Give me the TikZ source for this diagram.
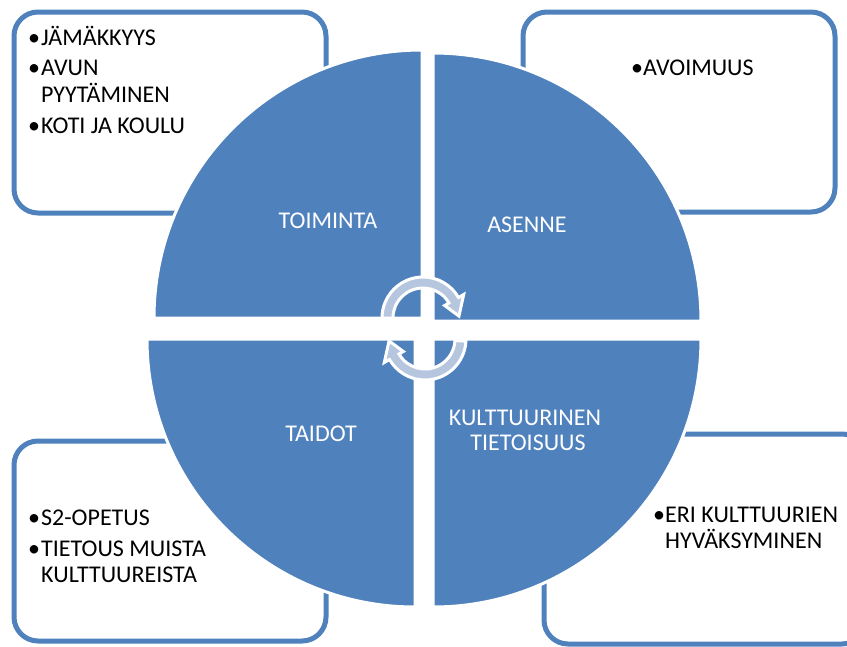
\documentclass[tikz,border=0pt]{standalone}
\usepackage{fontspec}
\setmainfont{Carlito}
\definecolor{accent}{HTML}{4F81BD}
\definecolor{arrowfill}{HTML}{B7C6DF}
\begin{document}
\begin{tikzpicture}[x=1pt,y=-1pt,
  boxstyle/.style={draw=accent, fill=white, line width=5pt, rounded corners=24pt},
  wedge/.style={fill=accent, draw=white, line width=3pt},
  cyclearrow/.style={fill=arrowfill, draw=white, line width=3pt, line join=miter},
  itemtext/.style={anchor=base west, inner sep=0pt, font=\fontsize{24}{28}\selectfont, text=black},
  wedgetext/.style={anchor=base, inner sep=0pt, font=\fontsize{24}{28}\selectfont, text=white}]
\useasboundingbox (0,0) rectangle (847,646);
\clip (0,0) rectangle (847,646);
% boxes
\draw[boxstyle] (14,12) rectangle (326,213);
\draw[boxstyle] (523,12) rectangle (835,212);
\draw[boxstyle] (14,441) rectangle (326,641);
\draw[boxstyle] (544,434) rectangle (866,644);
% wedges
\draw[wedge] (422,318) -- ++(180:268) arc[start angle=180, end angle=270, radius=268] -- cycle;
\draw[wedge] (433,321) -- ++(270:268) arc[start angle=270, end angle=360, radius=268] -- cycle;
\draw[wedge] (433,339) -- ++(0:268) arc[start angle=0, end angle=90, radius=268] -- cycle;
\draw[wedge] (415,339) -- ++(90:268) arc[start angle=90, end angle=180, radius=268] -- cycle;
% cycle arrows
\begin{scope}[shift={(423,318)}]
\draw[cyclearrow] (180:41) arc[start angle=180, end angle=330, radius=41] -- (330:47) -- (357:36) -- (330:25) -- (330:30) arc[start angle=330, end angle=180, radius=30] -- cycle;
\end{scope}
\begin{scope}[shift={(425,339)}]
\draw[cyclearrow] (3:41) arc[start angle=3, end angle=150, radius=41] -- (150:47) -- (177:36) -- (150:25) -- (150:30) arc[start angle=150, end angle=3, radius=30] -- cycle;
\end{scope}
% wedge labels
\node[wedgetext] (w1) at (328,228) {TOIMINTA};
\node[wedgetext] (w2) at (527,232) {ASENNE};
\node[wedgetext] (w3) at (321,441) {TAIDOT};
\node[wedgetext] (w4a) at (525,425) {KULTTUURINEN};
\node[wedgetext] (w4b) at (528,450) {TIETOISUUS};
% top-left items
\node[itemtext] (b1a) at (28,45) {•};
\node[itemtext] (t1a) at (41,45) {JÄMÄKKYYS};
\node[itemtext] (b1b) at (28,75) {•};
\node[itemtext] (t1b) at (41,75) {AVUN};
\node[itemtext] (t1c) at (41,102) {PYYTÄMINEN};
\node[itemtext] (b1d) at (28,133) {•};
\node[itemtext] (t1d) at (41,133) {KOTI JA KOULU};
% top-right items
\node[itemtext] (b2a) at (631,75) {•};
\node[itemtext] (t2a) at (643,75) {AVOIMUUS};
% bottom-left items
\node[itemtext] (b3a) at (28,525) {•};
\node[itemtext] (t3a) at (41,525) {S2-OPETUS};
\node[itemtext] (b3b) at (28,556) {•};
\node[itemtext] (t3b) at (41,556) {TIETOUS MUISTA};
\node[itemtext] (t3c) at (41,582) {KULTTUUREISTA};
% bottom-right items
\node[itemtext] (b4a) at (653,522) {•};
\node[itemtext] (t4a) at (665,522) {ERI KULTTUURIEN};
\node[itemtext] (t4b) at (665,548) {HYVÄKSYMINEN};
\end{tikzpicture}
\end{document}
